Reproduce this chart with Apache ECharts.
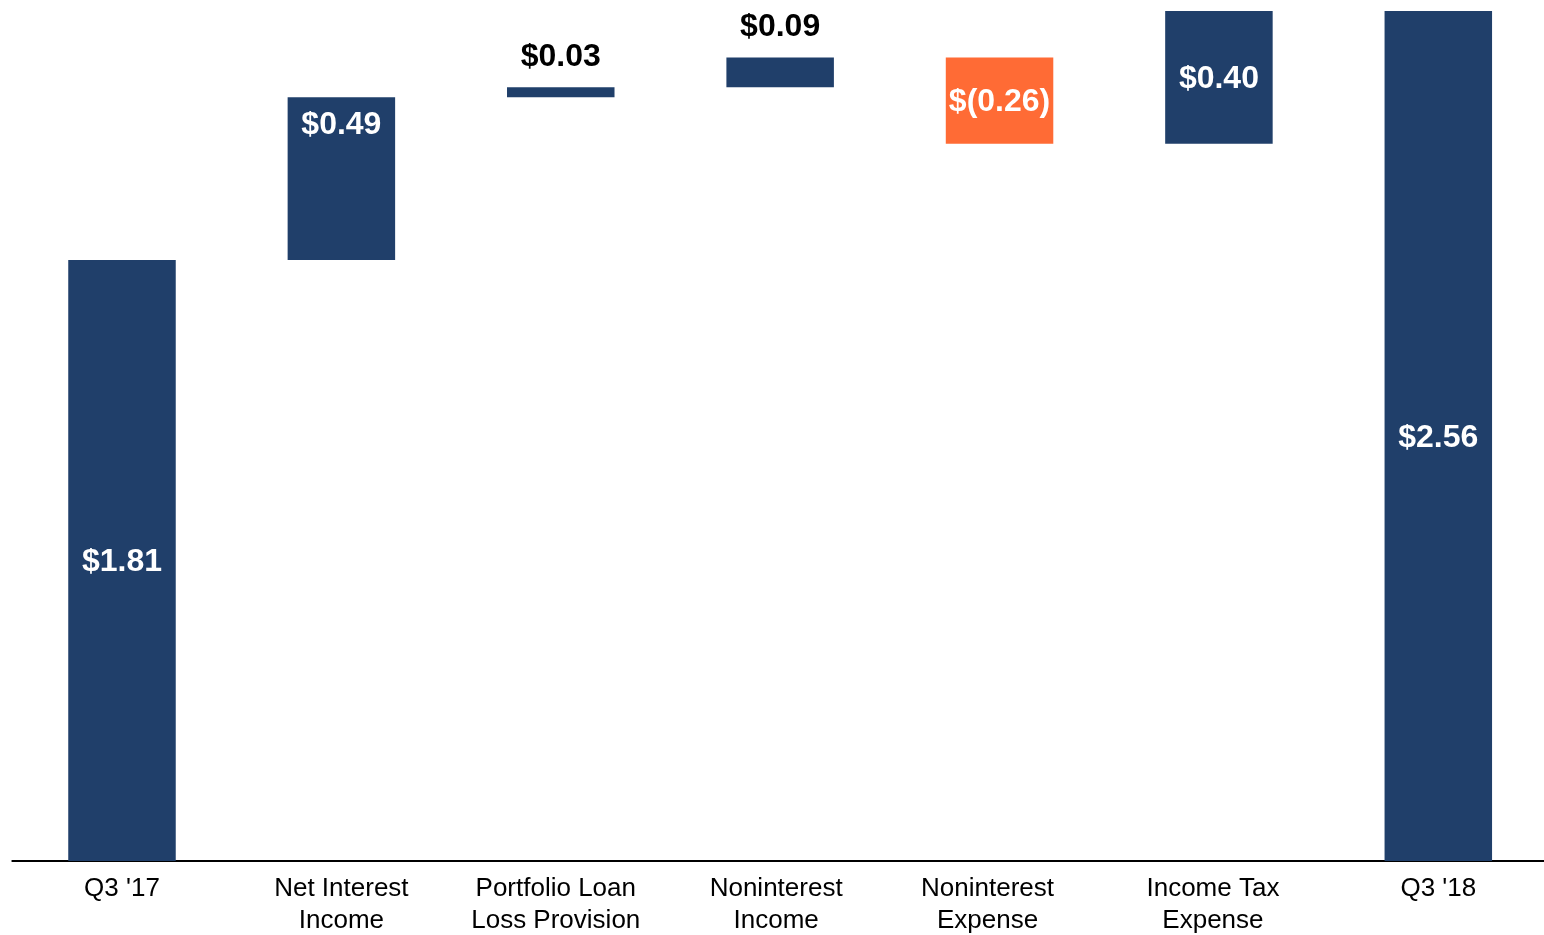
<!DOCTYPE html>
<html>
<head>
<meta charset="utf-8">
<script src="https://cdn.jsdelivr.net/npm/echarts@6/dist/echarts.min.js"></script>
<style>
html, body { margin: 0; padding: 0; background: #fff; overflow: hidden; }
#main { width: 1548px; height: 935px; }
</style>
</head>
<body>
<div id="main"></div>
<script>
var categories = ["Q3 '17", 'Net Interest\nIncome', 'Portfolio Loan\nLoss Provision', 'Noninterest\nIncome', 'Noninterest\nExpense', 'Income Tax\nExpense', "Q3 '18"];
var changes = [1.81, 0.49, 0.03, 0.09, -0.26, 0.40, 2.56];
var isTotal = [true, false, false, false, false, false, true];
var valueLabels = ['$1.81', '$0.49', '$0.03', '$0.09', '$(0.26)', '$0.40', '$2.56'];

var NAVY = '#203F6A';
var ORANGE = '#FF6B35';
var FONT = 'Liberation Sans, Arial, sans-serif';

// build the invisible base + visible step for the waterfall
var baseData = [];
var stepData = [];
var running = 0;
for (var i = 0; i < changes.length; i++) {
	var v = changes[i];
	if (isTotal[i]) {
		baseData.push(0);
		running = v;
		stepData.push(v);
	} else if (v >= 0) {
		baseData.push(running);
		running = running + v;
		stepData.push(v);
	} else {
		running = running + v;
		baseData.push(running);
		stepData.push(-v);
	}
}

// label placement per bar (small steps get a black label above)
var labelStyle = [
	{ position: 'inside' },
	{ position: 'insideTop', distance: 10 },
	{ position: 'top', distance: 16, color: '#000' },
	{ position: 'top', distance: 16, color: '#000' },
	{ position: 'inside' },
	{ position: 'inside' },
	{ position: 'inside' }
];

// category text in the original sits a little left of some bars
var catStyleKey = ['n', 'n', 'c', 'b', 'e', 'd', 'n'];
function catRich(pad) {
	return { fontSize: 26, lineHeight: 32, fontFamily: FONT, color: '#000', padding: [0, pad, 0, 0] };
}

var chart = echarts.init(document.getElementById('main'));
var option = {
	animation: false,
	grid: {
		left: 12.3,
		top: 11,
		right: 0,
		bottom: 74,
		outerBoundsMode: 'none'
	},
	xAxis: {
		type: 'category',
		data: categories,
		axisLine: { show: true, lineStyle: { color: '#000', width: 2 } },
		axisTick: { show: false },
		axisLabel: {
			interval: 0,
			color: '#000',
			fontFamily: FONT,
			fontSize: 26,
			lineHeight: 32,
			margin: 12,
			verticalAlign: 'top',
			formatter: function (val, idx) {
				var k = catStyleKey[idx];
				return val.split('\n').map(function (s) { return '{' + k + '|' + s + '}'; }).join('\n');
			},
			rich: {
				n: catRich(0),
				b: catRich(8),
				c: catRich(10),
				d: catRich(12),
				e: catRich(24)
			}
		}
	},
	yAxis: {
		type: 'value',
		min: 0,
		max: 2.56,
		show: false,
		splitLine: { show: false }
	},
	series: [
		{
			name: 'base',
			type: 'bar',
			stack: 'wf',
			barWidth: '49%',
			itemStyle: { color: 'transparent' },
			emphasis: { disabled: true },
			data: baseData
		},
		{
			name: 'step',
			type: 'bar',
			stack: 'wf',
			barWidth: '49%',
			data: stepData.map(function (v, i) {
				var ls = labelStyle[i];
				return {
					value: v,
					itemStyle: { color: changes[i] < 0 ? ORANGE : NAVY },
					label: {
						show: true,
						position: ls.position,
						distance: ls.distance || 5,
						offset: [0, 2],
						color: ls.color || '#fff',
						formatter: valueLabels[i],
						fontFamily: FONT,
						fontWeight: 'bold',
						fontSize: 32
					}
				};
			})
		}
	]
};
chart.setOption(option);
</script>
</body>
</html>
